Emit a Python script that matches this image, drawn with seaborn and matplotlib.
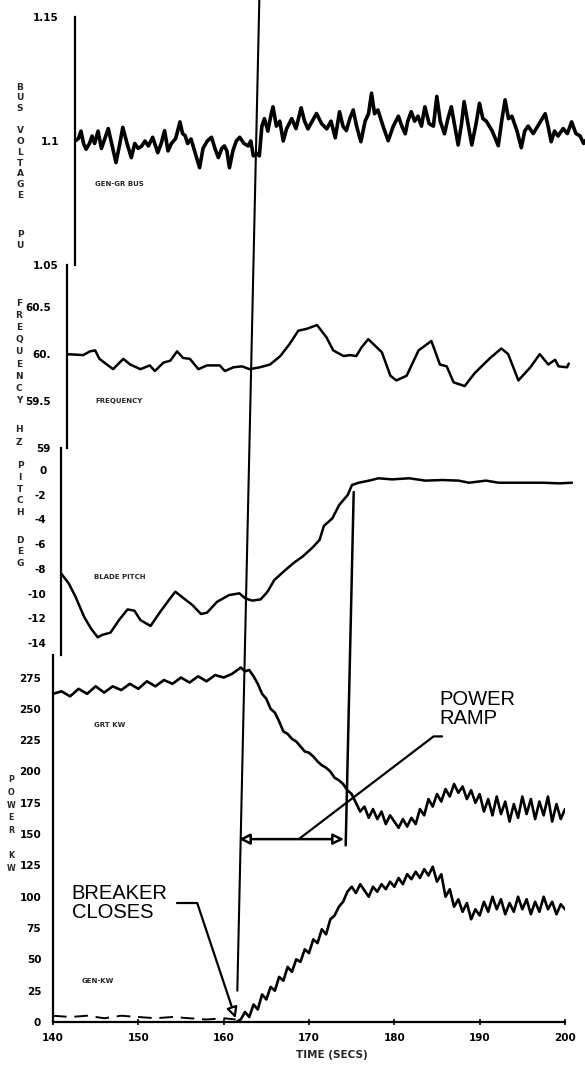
import matplotlib
matplotlib.use("Agg")
import matplotlib.pyplot as plt
import numpy as np
import pandas as pd
import seaborn as sns
from matplotlib.patches import ConnectionPatch

# ---------------------------------------------------------------- data
# Bus voltage (pu)
volt_t = [140.0, 140.4, 140.7, 141.0, 141.3, 141.7, 142.0, 142.3, 142.7, 143.1,
          143.5, 143.9, 144.3, 144.8, 145.2, 145.6, 146.1, 146.6, 147.0, 147.4,
          147.8, 148.2, 148.6, 149.1, 149.7, 150.1, 150.5, 150.9, 151.3, 151.8,
          152.3, 152.6, 152.9, 153.2, 153.6, 154.1, 154.6, 155.0, 155.5, 156.0,
          156.4, 156.8, 157.2, 157.5, 157.8, 158.1, 158.5, 158.9, 159.3, 159.8,
          160.3, 160.6, 160.9, 161.3, 161.6, 161.9, 162.2, 162.6, 163.0, 163.2,
          163.6, 164.0, 164.4, 164.8, 165.4, 165.9, 166.5, 166.9, 167.3, 167.8,
          168.3, 168.9, 169.5, 170.0, 170.5, 171.0, 171.4, 171.8, 172.2, 172.6,
          173.0, 173.5, 174.0, 174.4, 174.75, 175.1, 175.5, 176.1, 176.7, 177.3,
          177.9, 178.3, 178.7, 179.0, 179.4, 179.8, 180.2, 180.6, 181.0, 181.5,
          182.0, 182.4, 182.8, 183.3, 183.7, 184.1, 184.5, 184.9, 185.3, 185.6,
          186.0, 186.5, 187.0, 187.4, 187.8, 188.2, 188.9, 189.6, 190.0, 190.4,
          190.8, 191.2, 191.8, 192.3, 192.7, 193.1, 193.7, 194.4, 195.1, 195.5,
          195.8, 196.2, 196.6, 197.2, 197.7, 198.2, 198.7, 199.2, 199.6, 200.0]
volt_v = [1.1000, 1.1010, 1.1040, 1.0990, 1.0967, 1.0990, 1.1020, 1.0990, 1.1040, 1.0970,
          1.1010, 1.1050, 1.0990, 1.0913, 1.0980, 1.1055, 1.0990, 1.0933, 1.0990, 1.0970,
          1.0979, 1.1000, 1.0980, 1.1015, 1.0953, 1.0990, 1.1042, 1.0960, 1.0990, 1.1010,
          1.1077, 1.1030, 1.1022, 1.0990, 1.1008, 1.0950, 1.0892, 1.0970, 1.1000, 1.1015,
          1.0970, 1.0933, 1.0970, 1.0980, 1.0960, 1.0892, 1.0960, 1.1000, 1.1015, 1.0990,
          1.0980, 1.1000, 1.0940, 1.0950, 1.0940, 1.1060, 1.1090, 1.1040, 1.1110, 1.1138,
          1.1060, 1.1080, 1.1000, 1.1050, 1.1090, 1.1050, 1.1134, 1.1080, 1.1049, 1.1080,
          1.1111, 1.1070, 1.1049, 1.1080, 1.1013, 1.1118, 1.1060, 1.1042, 1.1090, 1.1125,
          1.1060, 1.0997, 1.1080, 1.1110, 1.1193, 1.1110, 1.1125, 1.1060, 1.1001, 1.1060,
          1.1100, 1.1060, 1.1029, 1.1080, 1.1118, 1.1080, 1.1100, 1.1060, 1.1138, 1.1070,
          1.1060, 1.1180, 1.1080, 1.1029, 1.1090, 1.1138, 1.1060, 1.0984, 1.1070, 1.1159,
          1.1080, 1.0984, 1.1070, 1.1152, 1.1090, 1.1080, 1.1040, 1.0981, 1.1080, 1.1166,
          1.1090, 1.1100, 1.1040, 1.0973, 1.1040, 1.1060, 1.1030, 1.1070, 1.1110, 1.1050,
          1.0997, 1.1040, 1.1020, 1.1050, 1.1030, 1.1077, 1.1030, 1.1020, 1.0990, 1.1010]

# Frequency (Hz)
freq_t = [140.0, 141.9, 142.7, 143.3, 143.8, 145.4, 146.6, 147.4, 148.6, 149.7,
          150.3, 151.3, 152.1, 152.9, 153.6, 154.4, 155.4, 156.4, 157.9, 158.5,
          159.5, 160.5, 161.4, 162.6, 163.8, 165.0, 166.1, 167.1, 168.1, 169.3,
          170.4, 171.2, 172.4, 173.2, 173.9, 174.5, 175.3, 176.9, 177.9, 178.6,
          179.8, 181.2, 182.7, 183.7, 184.5, 185.3, 186.6, 187.8, 189.6, 190.9,
          191.7, 192.9, 194.3, 195.4, 196.4, 197.2, 197.6, 198.6, 198.8]
freq_v = [60.00, 59.99, 60.03, 60.04, 59.95, 59.84, 59.95, 59.89, 59.84, 59.88,
          59.82, 59.91, 59.93, 60.03, 59.96, 59.95, 59.84, 59.88, 59.88, 59.82,
          59.86, 59.87, 59.84, 59.86, 59.89, 59.98, 60.11, 60.25, 60.27, 60.31,
          60.18, 60.04, 59.98, 59.99, 59.98, 60.07, 60.16, 60.02, 59.77, 59.72,
          59.77, 60.04, 60.14, 59.89, 59.87, 59.70, 59.66, 59.80, 59.96, 60.06,
          60.00, 59.72, 59.86, 60.00, 59.89, 59.94, 59.87, 59.86, 59.90]

# Blade pitch (deg)
pitch_t = [140.0, 140.9, 141.7, 142.7, 143.5, 144.3, 144.8, 145.8, 146.8, 147.8,
           148.6, 149.3, 150.5, 151.5, 152.7, 153.4, 154.4, 155.4, 156.4, 157.1,
           158.3, 159.7, 160.9, 161.6, 162.4, 163.4, 164.2, 165.0, 166.3, 167.3,
           168.3, 169.5, 170.3, 170.8, 171.8, 172.6, 173.6, 174.1, 174.9, 176.1,
           177.2, 178.8, 180.8, 182.7, 184.7, 186.6, 187.8, 189.8, 191.3, 193.7,
           196.4, 198.4, 199.9]
pitch_v = [-8.36, -9.17, -10.25, -11.87, -12.81, -13.54, -13.35, -13.16, -12.14, -11.28,
           -11.38, -12.14, -12.62, -11.60, -10.47, -9.85, -10.39, -10.93, -11.65, -11.55,
           -10.66, -10.12, -9.98, -10.39, -10.57, -10.47, -9.85, -8.90, -8.09, -7.50,
           -7.01, -6.26, -5.66, -4.53, -3.91, -2.83, -2.02, -1.21, -1.03, -0.86,
           -0.67, -0.76, -0.67, -0.86, -0.81, -0.86, -1.03, -0.86, -1.03, -1.03,
           -1.03, -1.08, -1.03]

# Generator output power (kW)
grt_t = [140.0, 141.0, 142.0, 143.0, 144.0, 145.0, 146.0, 147.0, 148.0, 149.0,
         150.0, 151.0, 152.0, 153.0, 154.0, 155.0, 156.0, 157.0, 158.0, 159.0,
         160.0, 161.0, 162.0, 162.5, 163.0, 163.5, 164.0, 164.5, 165.0, 165.5,
         166.0, 166.5, 167.0, 167.5, 168.0, 168.5, 169.0, 169.5, 170.0, 170.5,
         171.0, 171.5, 172.0, 172.5, 173.0, 173.5, 174.0, 174.5, 175.0, 175.5,
         176.0, 176.5, 177.0, 177.5, 178.0, 178.5, 179.0, 179.5, 180.0, 180.5,
         181.0, 181.5, 182.0, 182.5, 183.0, 183.5, 184.0, 184.5, 185.0, 185.5,
         186.0, 186.5, 187.0, 187.5, 188.0, 188.5, 189.0, 189.5, 190.0, 190.5,
         191.0, 191.5, 192.0, 192.5, 193.0, 193.5, 194.0, 194.5, 195.0, 195.5,
         196.0, 196.5, 197.0, 197.5, 198.0, 198.5, 199.0, 199.5, 200.0]
grt_v = [262, 264, 260, 266, 262, 268, 263, 268, 265, 270,
         266, 272, 268, 273, 270, 275, 271, 276, 272, 277,
         275, 278, 283, 280, 281, 276, 270, 262, 258, 250,
         247, 240, 232, 230, 226, 224, 220, 216, 215, 212,
         208, 205, 203, 200, 195, 193, 190, 185, 182, 175,
         168, 172, 163, 170, 162, 168, 158, 165, 160, 155,
         162, 156, 163, 158, 170, 165, 178, 172, 182, 176,
         186, 180, 190, 183, 188, 178, 185, 175, 182, 168,
         178, 165, 180, 166, 176, 160, 174, 163, 180, 166,
         178, 162, 176, 165, 180, 160, 174, 162, 170]

# Grid-side power (kW), before and after the breaker closes
gen_pre_t = [140.0, 142.0, 144.0, 146.0, 148.0, 150.0, 152.0, 154.0, 156.0, 158.0, 160.0, 161.4]
gen_pre_v = [5, 4, 5, 3, 5, 4, 3, 4, 3, 2, 3, 2]
gen_t = [161.5, 162.0, 162.5, 163.0, 163.5, 164.0, 164.5, 165.0, 165.5, 166.0,
         166.5, 167.0, 167.5, 168.0, 168.5, 169.0, 169.5, 170.0, 170.5, 171.0,
         171.5, 172.0, 172.5, 173.0, 173.5, 174.0, 174.5, 175.0, 175.5, 176.0,
         176.5, 177.0, 177.5, 178.0, 178.5, 179.0, 179.5, 180.0, 180.5, 181.0,
         181.5, 182.0, 182.5, 183.0, 183.5, 184.0, 184.5, 185.0, 185.5, 186.0,
         186.5, 187.0, 187.5, 188.0, 188.5, 189.0, 189.5, 190.0, 190.5, 191.0,
         191.5, 192.0, 192.5, 193.0, 193.5, 194.0, 194.5, 195.0, 195.5, 196.0,
         196.5, 197.0, 197.5, 198.0, 198.5, 199.0, 199.5, 200.0]
gen_v = [0, 2, 8, 4, 14, 10, 22, 18, 28, 25,
         36, 33, 44, 40, 50, 48, 58, 55, 66, 63,
         74, 70, 82, 85, 92, 96, 104, 108, 103, 110,
         105, 100, 108, 104, 110, 106, 112, 108, 115, 110,
         118, 114, 120, 115, 122, 117, 124, 112, 118, 100,
         106, 92, 98, 88, 95, 82, 90, 85, 96, 88,
         100, 90, 98, 86, 95, 88, 100, 90, 98, 86,
         96, 88, 100, 90, 96, 86, 94, 90]

volt_ticks = [1.05, 1.1, 1.15]
volt_labels = ["1.05", "1.1", "1.15"]
freq_ticks = [59.0, 59.5, 60.0, 60.5]
freq_labels = ["59", "59.5", "60.", "60.5"]
pitch_ticks = [0, -2, -4, -6, -8, -10, -12, -14]
power_ticks = list(range(0, 276, 25))
time_ticks = [140, 150, 160, 170, 180, 190, 200]

BREAKER_T = 161.6
RAMP_END_T = 174.3
ARROW_KW = 146

# ---------------------------------------------------------------- style
sns.set_theme(style="white")
plt.rcParams["font.family"] = ["DejaVu Sans"]
plt.rcParams["axes.linewidth"] = 1.6
plt.rcParams["axes.edgecolor"] = "black"

W, H = 585, 1067
fig = plt.figure(figsize=(W / 100, H / 100), dpi=100)
fig.patch.set_facecolor("white")

def panel(left, top, bottom, width=512):
    return fig.add_axes([left / W, 1 - bottom / H, width / W, (bottom - top) / H])

ax_v = panel(75, 17, 265)
ax_f = panel(67, 265, 448)
ax_p = panel(61, 448, 655)
ax_w = panel(53, 655, 1022)

tick_font = dict(fontsize=7.5, fontweight="heavy")

for ax, pad in ((ax_v, 8), (ax_f, 8), (ax_p, 7), (ax_w, 5)):
    ax.set_facecolor("none")
    for s in ("top", "right", "bottom"):
        ax.spines[s].set_visible(False)
    ax.set_xlim(140, 200)
    ax.tick_params(axis="y", direction="inout", length=7, width=1.3,
                   pad=pad, labelsize=7.5, colors="black")
    ax.tick_params(axis="x", bottom=False, labelbottom=False)
    ax.grid(False)

ax_w.spines["bottom"].set_visible(True)
ax_w.tick_params(axis="x", bottom=True, labelbottom=True, direction="inout",
                 length=4, width=1.2, pad=6, labelsize=7.5, colors="black")

line_kw = dict(color="black", estimator=None, sort=False, legend=False)

sns.lineplot(data=pd.DataFrame({"t": volt_t, "v": volt_v}), x="t", y="v",
             ax=ax_v, linewidth=2.6, **line_kw)
sns.lineplot(data=pd.DataFrame({"t": freq_t, "f": freq_v}), x="t", y="f",
             ax=ax_f, linewidth=1.8, **line_kw)
sns.lineplot(data=pd.DataFrame({"t": pitch_t, "p": pitch_v}), x="t", y="p",
             ax=ax_p, linewidth=1.8, **line_kw)
sns.lineplot(data=pd.DataFrame({"t": grt_t, "p": grt_v}), x="t", y="p",
             ax=ax_w, linewidth=1.9, **line_kw)
sns.lineplot(data=pd.DataFrame({"t": gen_pre_t, "p": gen_pre_v}), x="t", y="p",
             ax=ax_w, linewidth=1.4, **line_kw)
ax_w.lines[-1].set_dashes((7, 4))
sns.lineplot(data=pd.DataFrame({"t": gen_t, "p": gen_v}), x="t", y="p",
             ax=ax_w, linewidth=1.9, **line_kw)

ax_v.set_ylim(1.05, 1.15)
ax_v.set_yticks(volt_ticks)
ax_v.set_yticklabels(volt_labels, **tick_font)
ax_f.set_ylim(59.0, 60.95)
ax_f.set_yticks(freq_ticks)
ax_f.set_yticklabels(freq_labels, **tick_font)
ax_p.set_ylim(-14.97, 1.78)
ax_p.set_yticks(pitch_ticks)
ax_p.set_yticklabels([str(v) for v in pitch_ticks], **tick_font)
ax_w.set_ylim(0, 293)
ax_w.set_yticks(power_ticks)
ax_w.set_yticklabels([str(v) for v in power_ticks], **tick_font)
ax_w.set_xticks(time_ticks)
ax_w.set_xticklabels([str(v) for v in time_ticks], **tick_font)
for ax in (ax_v, ax_f, ax_p, ax_w):
    ax.set_xlabel("")
    ax.set_ylabel("")

ax_w.set_xlabel("TIME (SECS)", fontsize=7.5, fontweight="heavy", labelpad=3)
ax_w.xaxis.set_label_coords(0.545, -0.075)

# stacked-letter axis titles
def stacked(word, x_px, y_px, size=6.5, spacing=1.25):
    fig.text(x_px / W, 1 - y_px / H, "\n".join(word), ha="center", va="center",
             fontsize=size, fontweight="heavy", linespacing=spacing)

stacked("BUS", 20, 98)
stacked("VOLTAGE", 20, 163)
stacked("PU", 20, 240)
stacked("FREQUENCY", 19, 352, spacing=1.45)
stacked("HZ", 19, 436, spacing=1.45)
stacked("PITCH", 20, 489, spacing=1.4)
stacked("DEG", 20, 552, spacing=1.4)
stacked("POWER", 11, 805, size=5.8, spacing=1.55)
stacked("KW", 11, 862, size=5.8, spacing=1.55)

# channel names
chan_kw = dict(fontsize=5, fontweight="heavy", va="center", ha="left")
ax_v.text(142.3, 1.0826, "GEN-GR BUS", **chan_kw)
ax_f.text(143.3, 59.5, "FREQUENCY", **chan_kw)
ax_p.text(143.9, -8.66, "BLADE PITCH", **chan_kw)
ax_w.text(144.8, 237, "GRT KW", **chan_kw)
ax_w.text(143.4, 33, "GEN-KW", **chan_kw)

# breaker-close and end-of-ramp markers spanning the panels
fig.add_artist(ConnectionPatch(xyA=(BREAKER_T, 25), coordsA=ax_w.transData,
                               xyB=(BREAKER_T, 1.1569), coordsB=ax_v.transData,
                               color="black", linewidth=1.5))
fig.add_artist(ConnectionPatch(xyA=(RAMP_END_T, 141), coordsA=ax_w.transData,
                               xyB=(RAMP_END_T, -1.78), coordsB=ax_p.transData,
                               color="black", linewidth=1.8))

# ramp-duration arrow
ax_w.annotate("", xy=(BREAKER_T + 0.2, ARROW_KW), xytext=(RAMP_END_T - 0.2, ARROW_KW),
              arrowprops=dict(arrowstyle="<|-|>", fc="white", ec="black", lw=1.8,
                              mutation_scale=16, shrinkA=0, shrinkB=0))

note_kw = dict(fontsize=14.5, family=["Liberation Sans", "DejaVu Sans"],
               color="black", linespacing=1.0)
ax_w.text(185.3, 250, "POWER\nRAMP", ha="left", va="center", **note_kw)
ax_w.plot([168.8, 184.6, 185.6], [ARROW_KW, 228, 228], color="black", lw=1.6)

ax_w.text(142.2, 95, "BREAKER\nCLOSES", ha="left", va="center", **note_kw)
ax_w.plot([154.5, 156.9], [95, 95], color="black", lw=1.6)
ax_w.annotate("", xy=(161.4, 3), xytext=(156.9, 95),
              arrowprops=dict(arrowstyle="-|>", fc="white", ec="black", lw=1.6,
                              mutation_scale=16, shrinkA=0, shrinkB=0))

fig.savefig("out.png", dpi=100, facecolor="white")
